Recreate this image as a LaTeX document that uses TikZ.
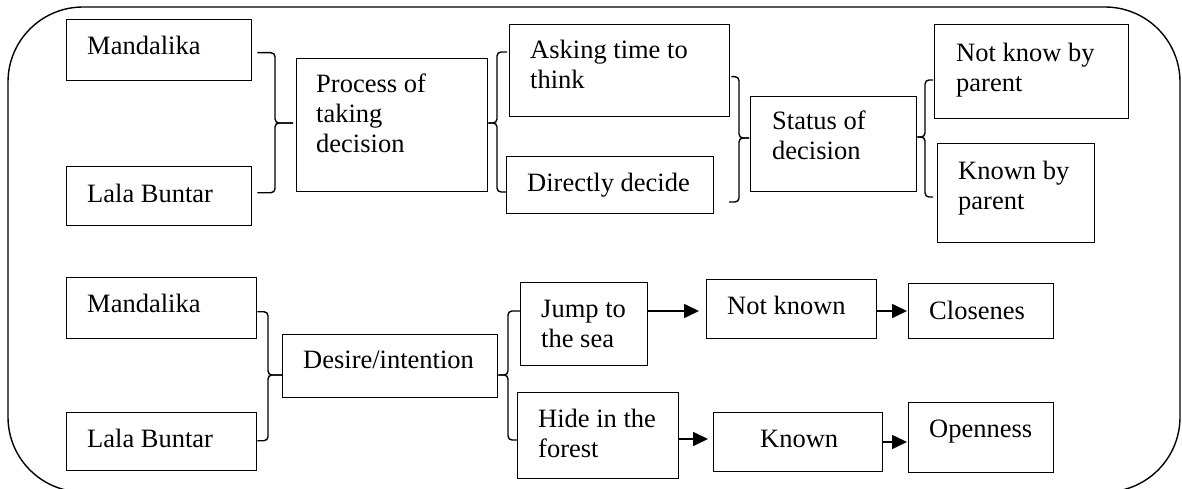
\documentclass[tikz,border=0pt]{standalone}
\usepackage{fontspec}
\setmainfont{Liberation Serif}
\usetikzlibrary{arrows.meta,calc}
\newcommand\twolines[2]{\vtop{\hbox{#1}\hbox{#2}}}
\newcommand\threelines[3]{\vtop{\hbox{#1}\hbox{#2}\hbox{#3}}}
\begin{document}
\begin{tikzpicture}[x=1pt,y=-1pt,
  box/.style={draw, line width=1.4pt, inner sep=0pt, anchor=north west},
  txt/.style={inner sep=0pt, anchor=base west, font=\fontsize{26.5}{30}\selectfont},
  brace/.style={line width=1.4pt, rounded corners=4pt},
  arr/.style={line width=1.6pt, -{Triangle[length=15pt,width=14pt]}},
  frame/.style={line width=1.4pt, rounded corners=75pt}]
\useasboundingbox (0,0) rectangle (1182,489);
\draw[frame] (8,7) rectangle (1180,492);

% ---- boxes, upper part
\node[box, minimum width=185pt, minimum height=61pt] (m1) at (66,19) {};
\node[box, minimum width=185pt, minimum height=59pt] (l1) at (66,166) {};
\node[box, minimum width=191pt, minimum height=133pt] (proc) at (296,58) {};
\node[box, minimum width=220pt, minimum height=92pt] (ask) at (509,24) {};
\node[box, minimum width=207pt, minimum height=57pt] (dir) at (506,156) {};
\node[box, minimum width=166pt, minimum height=95pt] (stat) at (750,96) {};
\node[box, minimum width=194pt, minimum height=94pt] (nkp) at (934,24) {};
\node[box, minimum width=157pt, minimum height=99pt] (kbp) at (937,143) {};
% ---- boxes, lower part
\node[box, minimum width=190pt, minimum height=61pt] (m2) at (66,277) {};
\node[box, minimum width=190pt, minimum height=58pt] (l2) at (66,412) {};
\node[box, minimum width=215pt, minimum height=63pt] (des) at (282,334) {};
\node[box, minimum width=127pt, minimum height=83pt] (jump) at (520,282) {};
\node[box, minimum width=161pt, minimum height=86pt] (hide) at (517,392) {};
\node[box, minimum width=170pt, minimum height=59pt] (nkn) at (706,279) {};
\node[box, minimum width=169pt, minimum height=59pt] (kn) at (713,412) {};
\node[box, minimum width=145pt, minimum height=55pt] (clo) at (908,283) {};
\node[box, minimum width=145pt, minimum height=70pt] (opn) at (908,402) {};

% ---- texts
\node[txt] (m1t) at (87,55) {Mandalika};
\node[txt] (l1t) at (87,202) {Lala Buntar};
\node[txt] (proct) at (316,93) {\threelines{Process of}{taking}{decision}};
\node[txt] (askt) at (530,59) {\twolines{Asking time to}{think}};
\node[txt] (dirt) at (527,192) {Directly decide};
\node[txt] (statt) at (772,130) {\twolines{Status of}{decision}};
\node[txt] (nkpt) at (956,62) {\twolines{Not know by}{parent}};
\node[txt] (kbpt) at (958,179) {\twolines{Known by}{parent}};
\node[txt] (m2t) at (87,312) {Mandalika};
\node[txt] (l2t) at (87,447) {Lala Buntar};
\node[txt] (dest) at (303,368) {Desire/intention};
\node[txt] (jumpt) at (541,317) {\twolines{Jump to}{the sea}};
\node[txt] (hidet) at (538,427) {\twolines{Hide in the}{forest}};
\node[txt] (nknt) at (727,314) {Not known};
\node[txt] (knt) at (760,447) {Known};
\node[txt] (clot) at (929,319) {Closenes};
\node[txt] (opnt) at (929,437) {Openness};

% ---- brace junctions and free ends
\coordinate (b1m) at (275,123);
\coordinate (b2m) at (497,123);
\coordinate (b2t) at (507,52);
\coordinate (b2b) at (507,192);
\coordinate (b3m) at (739,138);
\coordinate (b3b) at (729,202);
\coordinate (b4m) at (925,137);
\coordinate (b4t) at (933,80);
\coordinate (b4b) at (933,197);
\coordinate (b5m) at (268,375);
\coordinate (b6m) at (508,375);
\coordinate (b6t) at (520,311);
\coordinate (b6b) at (517,440);

% ---- braces
\draw[brace, shorten >=3pt] ($(m1.east)+(5,2.5)$) -| (b1m) -- (proc.west|-b1m);
\draw[brace, shorten >=3pt] ($(l1.east)+(5,-3.5)$) -| (b1m) -- (proc.west|-b1m);

\draw[brace] (proc.east|-b2m) -- (b2m) |- (b2t);
\draw[brace] (proc.east|-b2m) -- (b2m) |- (b2b);

\draw[brace, shorten >=1pt] ($(ask.east)+(1,6)$) -| (b3m) -- (stat.west|-b3m);
\draw[brace, shorten >=1pt] (b3b) -| (b3m) -- (stat.west|-b3m);

\draw[brace] (stat.east|-b4m) -- (b4m) |- (b4t);
\draw[brace] (stat.east|-b4m) -- (b4m) |- (b4b);

\draw[brace] ($(m2.east)+(0,3.5)$) -| (b5m) -- (des.west|-b5m);
\draw[brace] ($(l2.east)+(0,-1)$) -| (b5m) -- (des.west|-b5m);

\draw[brace] (des.east|-b6m) -- (b6m) |- (b6t);
\draw[brace] (des.east|-b6m) -- (b6m) |- (b6b);

% ---- arrows
\coordinate (ay1) at (0,311);
\coordinate (ay2) at (0,439);
\coordinate (ay4) at (0,442);
\draw[arr, shorten >=7pt] (jump.east|-ay1) -- (nkn.west|-ay1);
\draw[arr, shorten >=5pt] (hide.east|-ay2) -- (kn.west|-ay2);
\draw[arr, shorten >=1pt] (nkn.east|-ay1) -- (clo.west|-ay1);
\draw[arr, shorten >=1pt] (kn.east|-ay4) -- (opn.west|-ay4);
\end{tikzpicture}
\end{document}
